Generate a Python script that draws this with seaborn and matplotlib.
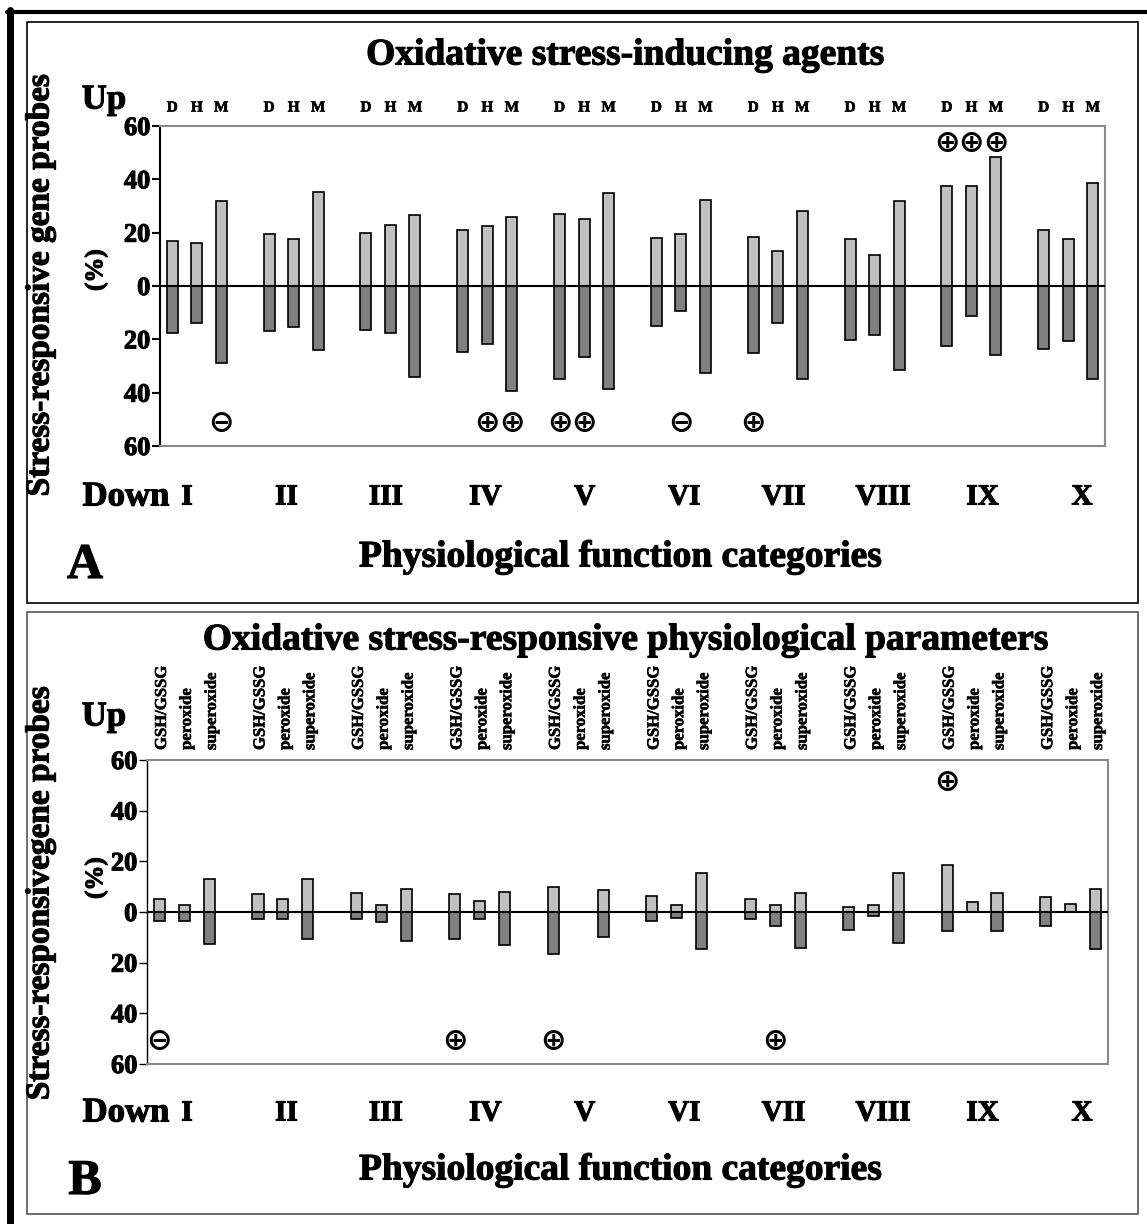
import numpy as np
import pandas as pd
import matplotlib
matplotlib.use('Agg')
import matplotlib.pyplot as plt
import matplotlib.patheffects as pe
import seaborn as sns
from matplotlib.patches import Rectangle
from matplotlib.lines import Line2D
from matplotlib.transforms import blended_transform_factory

W, H = 1147, 1224

groups = ['I', 'II', 'III', 'IV', 'V', 'VI', 'VII', 'VIII', 'IX', 'X']
agents = ['D', 'H', 'M']
params = ['GSH/GSSG', 'peroxide', 'superoxide']

# panel A: % probes up / down, per group in order D, H, M
up_a = [17, 16, 32, 19.5, 17.8, 35.4, 20, 23, 26.6, 21, 22.5, 26,
        27, 25, 35, 18, 19.6, 32.3, 18.5, 13, 28, 17.8, 11.6, 32,
        37.5, 37.5, 48.3, 21, 17.8, 38.8]
down_a = [17.5, 14, 28.8, 16.8, 15.3, 24, 16.4, 17.5, 34, 24.6, 21.6, 39.3,
          34.8, 26.8, 38.8, 15.1, 9.5, 32.5, 25.3, 13.9, 34.8, 20.4, 18.3, 31.6,
          22.4, 11.1, 26, 23.5, 20.6, 35]

# panel B: % probes up / down, per group in order GSH/GSSG, peroxide, superoxide
up_b = [5.1, 2.6, 13, 7.1, 5.1, 13, 7.5, 2.6, 8.9, 7.1, 4.2, 7.9,
        10, 0, 8.5, 6.4, 2.8, 15.3, 5.3, 2.8, 7.6, 2, 2.8, 15.3,
        18.4, 3.9, 7.6, 6.1, 3.2, 9.1]
down_b = [3.6, 3.6, 12.6, 2.6, 2.6, 10.5, 2.6, 4.1, 11.4, 10.5, 2.6, 13,
          16.4, 0, 10, 3.4, 2.2, 14.6, 2.9, 5.4, 14.1, 7.1, 1.7, 12.1,
          7.5, 0, 7.5, 5.7, 0, 14.6]

# significance symbols: (group, bar in group, y value, symbol)
marks_a = [(0, 2, -51.5, '⊖'), (3, 1, -51.5, '⊕'), (3, 2, -51.5, '⊕'),
           (4, 0, -51.5, '⊕'), (4, 1, -51.5, '⊕'), (5, 1, -51.5, '⊖'),
           (6, 0, -51.5, '⊕'), (8, 0, 53.5, '⊕'), (8, 1, 53.5, '⊕'),
           (8, 2, 53.5, '⊕')]
marks_b = [(0, 0, -51, '⊖'), (3, 0, -51, '⊕'), (4, 0, -51, '⊕'),
           (6, 1, -51, '⊕'), (8, 0, 51, '⊕')]

yticks = [-60, -40, -20, 0, 20, 40, 60]
ytick_labels = ['60', '40', '20', '0', '20', '40', '60']

LIGHT = '#c0c0c0'
DARK = '#808080'
GSTEP = 3.95
xpos = [g * GSTEP + j for g in range(10) for j in range(3)]

sns.set_style('white')
plt.rcParams['font.family'] = ['Liberation Serif', 'DejaVu Serif']
plt.rcParams['font.weight'] = 'bold'
plt.rcParams['text.color'] = 'black'
plt.rcParams['ytick.color'] = 'black'

fig = plt.figure(figsize=(W / 100, H / 100), dpi=100)


def heavy(w):
    return dict(fontweight='bold', color='black',
                path_effects=[pe.withStroke(linewidth=w, foreground='black')])


BOLD = heavy(0.8)
BOLD_S = heavy(0.4)


def fx(px):
    return px / W


def fy(py):
    return 1 - py / H


def draw_panel(ax, up, down, marks, left_lw):
    df = pd.DataFrame({'x': xpos, 'up': up, 'down': [-v for v in down]})
    sns.barplot(data=df, x='x', y='up', native_scale=True, width=0.45,
                color=LIGHT, saturation=1, edgecolor='black', linewidth=1.2,
                errorbar=None, ax=ax)
    sns.barplot(data=df, x='x', y='down', native_scale=True, width=0.45,
                color=DARK, saturation=1, edgecolor='black', linewidth=1.2,
                errorbar=None, ax=ax)
    ax.axhline(0, color='black', lw=1.5, zorder=5)
    for g, j, yv, sym in marks:
        ax.text(xpos[g * 3 + j], yv, sym, ha='center', va='center',
                fontsize=22, family=['DejaVu Sans'], fontweight='bold',
                color='black')
    ax.set_xlim(-0.5, 9 * GSTEP + 2.5)
    ax.set_ylim(-60, 60)
    ax.set_xticks([])
    ax.set_yticks(yticks)
    ax.set_yticklabels(ytick_labels, fontsize=19, **BOLD)
    ax.set_xlabel('')
    ax.set_ylabel('')
    ax.tick_params(axis='y', direction='out', length=6, width=left_lw,
                   pad=1, left=True, colors='black')
    for side in ['top', 'right', 'bottom']:
        ax.spines[side].set_color('#8a8a8a')
        ax.spines[side].set_linewidth(1.5)
    ax.spines['left'].set_color('black')
    ax.spines['left'].set_linewidth(left_lw)
    ax.patch.set_alpha(0)


# ---- panel A ----
axA = fig.add_axes([fx(160), fy(446), fx(945), 320 / H])
draw_panel(axA, up_a, down_a, marks_a, 1.5)
trA = blended_transform_factory(axA.transData, axA.transAxes)
for i, x in enumerate(xpos):
    axA.text(x, 1 + 18 / 320, agents[i % 3], transform=trA, ha='center',
             va='center', fontsize=11, **BOLD_S)

# ---- panel B ----
axB = fig.add_axes([fx(147), fy(1064), fx(961), 304 / H])
draw_panel(axB, up_b, down_b, marks_b, 1.0)
trB = blended_transform_factory(axB.transData, axB.transAxes)
for i, x in enumerate(xpos):
    axB.text(x + 0.1, 1 + 10 / 304, params[i % 3], transform=trB,
             ha='center', va='bottom', rotation=90, fontsize=12, **BOLD_S)

# ---- panel texts ----
lab_x = np.linspace(187, 1082, 10)
for top, down_y, title, ty, xl_y, letter, ly, ylab in [
        (100, 497, 'Oxidative stress-inducing agents', 55, 557, 'A', 566,
         'Stress-responsive gene probes'),
        (717, 1113, 'Oxidative stress-responsive physiological parameters',
         640, 1170, 'B', 1182, 'Stress-responsivegene probes')]:
    fig.text(fx(625), fy(ty), title, ha='center', va='center', fontsize=27,
             **BOLD)
    fig.text(fx(620), fy(xl_y), 'Physiological function categories',
             ha='center', va='center', fontsize=27, **BOLD)
    fig.text(fx(104), fy(top), 'Up', ha='center', va='center', fontsize=25,
             **BOLD)
    fig.text(fx(126), fy(down_y), 'Down', ha='center', va='center',
             fontsize=25, **BOLD)
    for k, g in enumerate(groups):
        fig.text(fx(lab_x[k]), fy(down_y), g, ha='center', va='center',
                 fontsize=21, **BOLD)
    fig.text(fx(85), fy(ly), letter, ha='center', va='center', fontsize=36,
             **BOLD)
    yc = 285 if letter == 'A' else 893
    fig.text(fx(40), fy(yc), ylab, ha='center', va='center', rotation=90,
             fontsize=24, **BOLD)
    fig.text(fx(96), fy(yc - 15), '(%)', ha='center', va='center',
             rotation=90, fontsize=18, **BOLD)

# panel frames
fig.add_artist(Rectangle((fx(27), fy(603)), fx(1111), 581 / H, fill=False,
                         ec='black', lw=1.2, transform=fig.transFigure))
fig.add_artist(Rectangle((fx(27), fy(1214)), fx(1111), 602 / H, fill=False,
                         ec='#555555', lw=1.2, transform=fig.transFigure))
fig.add_artist(Line2D([fx(9.5), fx(9.5)], [0, fy(10)], color='black', lw=5,
                      transform=fig.transFigure))
fig.add_artist(Line2D([fx(7), 1], [fy(12), fy(12)], color='black', lw=3,
                      transform=fig.transFigure))

fig.savefig('out.png', dpi=100)
